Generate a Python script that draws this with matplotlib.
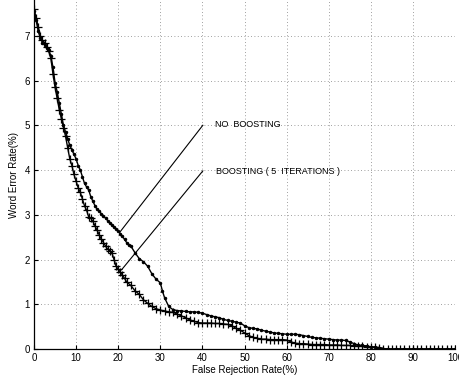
import matplotlib
matplotlib.use('Agg')
import matplotlib.pyplot as plt

plt.rcParams['font.family'] = ['Liberation Sans', 'DejaVu Sans']

# False rejection rate (%) and word error rate (%)
frr_boost = [0, 0.5, 1, 1.5, 2, 2.5, 3, 3.5, 4, 4.5, 5, 5.5, 6, 6.5, 7, 7.5, 8, 8.5, 9, 9.5,
             10, 10.5, 11, 11.5, 12, 12.5, 13, 13.5, 14, 14.5, 15, 15.5, 16, 16.5, 17, 17.5,
             18, 18.5, 19, 19.5, 20, 20.5, 21, 21.5, 22, 23, 24, 25, 26, 27, 28, 29, 30, 31,
             32, 33, 34, 35, 36, 37, 38, 39, 40, 41, 42, 43, 44, 45, 46, 47, 48, 49, 50, 51,
             52, 53, 54, 55, 56, 57, 58, 59, 60, 61, 62, 63, 64, 65, 66, 67, 68, 69, 70, 71,
             72, 73, 74, 75, 76, 77, 78, 79, 80, 81, 82, 83, 84, 85, 86, 87, 88, 89, 90, 91,
             92, 93, 94, 95, 96, 97, 98, 99, 100]
wer_boost = [7.6, 7.4, 7.2, 7.0, 6.9, 6.85, 6.75, 6.65, 6.5, 6.15, 5.85, 5.6, 5.35, 5.15, 4.95,
             4.75, 4.5, 4.25, 4.1, 3.9, 3.75, 3.6, 3.5, 3.35, 3.2, 3.1, 2.95, 2.92, 2.85, 2.75,
             2.65, 2.55, 2.45, 2.38, 2.3, 2.23, 2.2, 2.15, 2.0, 1.85, 1.78, 1.72, 1.65, 1.58,
             1.5, 1.42, 1.3, 1.22, 1.1, 1.02, 0.95, 0.9, 0.87, 0.85, 0.83, 0.82, 0.78, 0.74,
             0.7, 0.65, 0.62, 0.59, 0.58, 0.58, 0.58, 0.57, 0.57, 0.56, 0.55, 0.52, 0.46, 0.42,
             0.36, 0.3, 0.26, 0.24, 0.22, 0.22, 0.21, 0.21, 0.21, 0.21, 0.2, 0.16, 0.13, 0.12,
             0.12, 0.11, 0.1, 0.1, 0.1, 0.1, 0.09, 0.09, 0.09, 0.08, 0.08, 0.08, 0.07, 0.07,
             0.06, 0.05, 0.05, 0.04, 0.03, 0.01, 0, 0, 0, 0, 0, 0, 0, 0, 0, 0, 0, 0, 0, 0, 0,
             0, 0]

frr_none = [0, 0.5, 1, 1.5, 2, 2.5, 3, 3.5, 4, 4.5, 5, 5.5, 6, 6.5, 7, 7.5, 8, 8.5, 9, 9.5,
            10, 10.5, 11, 11.5, 12, 12.5, 13, 13.5, 14, 14.5, 15, 15.5, 16, 16.5, 17, 17.5,
            18, 18.5, 19, 19.5, 20, 20.5, 21, 21.5, 22, 22.5, 23, 24, 25, 26, 27, 28, 29, 30,
            30.5, 31, 32, 33, 34, 35, 36, 37, 38, 39, 40, 41, 42, 43, 44, 45, 46, 47, 48, 49,
            50, 51, 52, 53, 54, 55, 56, 57, 58, 59, 60, 61, 62, 63, 64, 65, 66, 67, 68, 69,
            70, 71, 72, 73, 74, 75, 76, 77, 78, 79, 80, 81, 82, 83, 84, 86, 88, 90, 92, 94,
            96, 98, 100]
wer_none = [7.55, 7.35, 7.1, 6.95, 6.85, 6.8, 6.72, 6.68, 6.55, 6.3, 5.95, 5.75, 5.5, 5.25,
            5.0, 4.85, 4.7, 4.55, 4.45, 4.35, 4.25, 4.1, 4.0, 3.85, 3.7, 3.62, 3.55, 3.4, 3.3,
            3.2, 3.12, 3.08, 3.02, 2.98, 2.92, 2.87, 2.82, 2.78, 2.72, 2.68, 2.63, 2.58, 2.52,
            2.45, 2.38, 2.33, 2.3, 2.15, 2.02, 1.95, 1.85, 1.68, 1.56, 1.48, 1.3, 1.15, 0.95,
            0.88, 0.86, 0.85, 0.84, 0.83, 0.83, 0.82, 0.8, 0.77, 0.74, 0.72, 0.7, 0.66, 0.64,
            0.62, 0.6, 0.58, 0.52, 0.48, 0.46, 0.45, 0.42, 0.4, 0.38, 0.36, 0.35, 0.34, 0.33,
            0.33, 0.33, 0.32, 0.3, 0.28, 0.26, 0.25, 0.24, 0.23, 0.22, 0.21, 0.2, 0.2, 0.19,
            0.16, 0.12, 0.09, 0.08, 0.07, 0.05, 0.04, 0.03, 0.01, 0, 0, 0, 0, 0, 0, 0, 0, 0]

xticks = [0, 10, 20, 30, 40, 50, 60, 70, 80, 90, 100]
yticks = [0, 1, 2, 3, 4, 5, 6, 7]

fig = plt.figure(figsize=(4.59, 3.79), dpi=100)
ax = fig.add_axes([34 / 459, 30 / 379, 421 / 459, 349 / 379])

ax.plot(frr_none, wer_none, '-', color='black', lw=1.0, marker='.', ms=3)
ax.plot(frr_boost, wer_boost, '-', color='black', lw=1.0, marker='+', ms=6, mew=0.9)

# labels with leader lines
ax.plot([20.3, 40.1], [2.6, 5.0], color='black', lw=0.8)
ax.plot([20.8, 40.1], [1.77, 3.98], color='black', lw=0.8)
ax.text(43, 5.02, 'NO  BOOSTING', fontsize=6.5, va='center', ha='left')
ax.text(43.2, 3.97, 'BOOSTING ( 5  ITERATIONS )', fontsize=6.5, va='center', ha='left')

ax.set_xlim(0, 100)
ax.set_ylim(0, 7.8)
ax.set_xticks(xticks)
ax.set_yticks(yticks)
ax.tick_params(direction='in', length=3, width=0.8, labelsize=7, pad=3)
ax.grid(True, color='0.5', linestyle=(0, (1, 3)), linewidth=0.6)
ax.spines['top'].set_visible(False)
ax.spines['right'].set_visible(False)
ax.spines['left'].set_linewidth(0.9)
ax.spines['bottom'].set_linewidth(0.9)

ax.set_xlabel('False Rejection Rate(%)', fontsize=7, labelpad=1)
ax.set_ylabel('Word Error Rate(%)', fontsize=7, labelpad=4)

fig.savefig('out.png', dpi=100)
